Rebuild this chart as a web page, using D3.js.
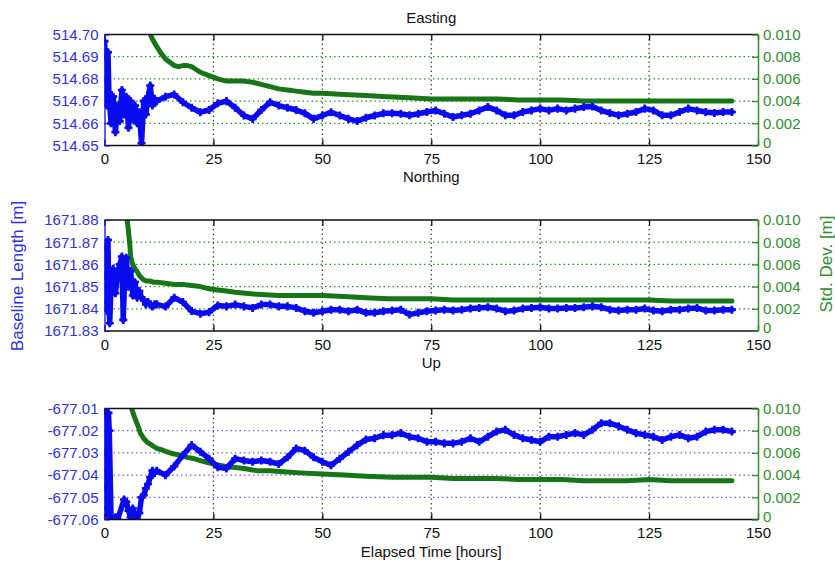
<!DOCTYPE html>
<html>
<head>
<meta charset="utf-8">
<script src="https://cdn.jsdelivr.net/npm/d3@7"></script>
<style>
  body { margin: 0; background: #fff; }
  text { font-family: "Liberation Sans", Arial, sans-serif; }
</style>
</head>
<body>
<div id="wrapper"></div>
<script>
// ---- data ----
const lateHours = [12,14,16,18,20,22,24,26,28,30,32,34,36,38,40,42,44,46,48,50,
  52,54,56,58,60,62,64,66,68,70,72,74,76,78,80,82,84,86,88,90,92,94,96,98,100,
  102,104,106,108,110,112,114,116,118,120,122,124,126,128,130,132,134,136,138,140,142,144]

const xTicks = [0,25,50,75,100,125,150]
const sdTicks = [0,0.002,0.004,0.006,0.008,0.010]

// Easting
const eastEarlyHours = [0,0.2,0.4,0.6,0.8,1,1.5,2,2.5,3,3.5,4,4.5,5,5.5,6,6.5,7,7.5,8,8.5,9,9.5,10,10.5,11,11.5]
const eastEarly = [514.697,514.690,514.679,514.668,514.692,514.674,514.660,514.672,514.656,514.668,514.661,
  514.675,514.664,514.672,514.658,514.670,514.662,514.668,514.660,514.665,514.651,514.670,514.664,514.672,
  514.677,514.668,514.671]
const eastLate = [514.670,514.672,514.673,514.6695,514.667,514.665,514.666,514.669,514.670,514.667,
  514.6635,514.662,514.666,514.6695,514.668,514.667,514.666,514.6645,514.662,514.6635,
  514.665,514.6635,514.662,514.661,514.6625,514.6635,514.6645,514.6645,514.6643,514.6636,
  514.6643,514.6651,514.6658,514.6643,514.6628,514.6636,514.6643,514.6658,514.6673,514.6658,
  514.6636,514.6636,514.6651,514.6658,514.6666,514.6658,514.6666,514.6658,514.6666,514.6673,
  514.6676,514.6658,514.6646,514.6636,514.6643,514.6651,514.6666,514.6658,514.6636,514.6636,
  514.6651,514.6666,514.6658,514.6651,514.6646,514.6651,514.6651]
const eastSdHours = [10.5,11,12,13,14,15,16,17,18,19,20,22,24,26,28,30,32,34,36,38,40,42,44,46,48,50,
  55,60,65,70,75,80,85,90,95,100,105,110,115,120,125,130,135,140,144]
const eastSd = [0.0100,0.0096,0.0089,0.0083,0.0078,0.0075,0.0072,0.0071,0.0072,0.0072,0.0071,
  0.0066,0.0063,0.0060,0.0058,0.0058,0.0058,0.0057,0.0055,0.0053,0.0051,0.0050,0.0049,0.0048,0.0047,0.0047,
  0.0046,0.0045,0.0044,0.0043,0.0042,0.0042,0.0042,0.0042,0.0041,0.0041,0.0041,0.0040,0.0040,0.0040,
  0.0040,0.0040,0.0040,0.0040,0.0040]
const eastTicks = [514.65,514.66,514.67,514.68,514.69,514.70]

// Northing
const northEarlyHours = [0,0.2,0.4,0.6,0.8,1,1.2,1.5,2,2.5,3,3.5,4,4.3,4.6,5,5.5,6,6.5,7,7.5,8,8.5,9,9.5,10,10.5,11,11.5]
const northEarly = [1671.868,1671.855,1671.843,1671.839,1671.871,1671.843,1671.8335,1671.850,1671.858,
  1671.847,1671.855,1671.860,1671.8635,1671.835,1671.852,1671.863,1671.850,1671.857,1671.846,1671.852,
  1671.845,1671.848,1671.845,1671.844,1671.842,1671.843,1671.842,1671.841,1671.842]
const northLate = [1671.842,1671.841,1671.845,1671.843,1671.839,1671.8378,1671.8385,1671.8415,1671.8411,1671.8419,
  1671.8411,1671.8404,1671.8419,1671.8419,1671.8411,1671.8411,1671.8404,1671.8389,1671.8382,1671.8389,
  1671.8396,1671.8396,1671.8389,1671.8396,1671.8382,1671.8382,1671.8389,1671.8392,1671.8396,1671.8374,
  1671.8382,1671.8389,1671.8392,1671.8396,1671.8392,1671.8396,1671.8401,1671.8404,1671.8407,1671.8401,
  1671.8389,1671.8392,1671.8401,1671.8404,1671.8407,1671.8401,1671.8401,1671.8404,1671.8404,1671.8407,
  1671.8411,1671.8407,1671.8396,1671.8392,1671.8396,1671.8396,1671.8401,1671.8392,1671.8389,1671.8396,
  1671.8396,1671.8401,1671.8404,1671.8392,1671.8392,1671.8396,1671.8396]
const northSdHours = [5.2,5.5,5.8,6,6.3,6.6,7,7.4,8,8.5,9,9.7,10.5,11.2,12,14,16,18,20,22,24,26,28,30,
  35,40,45,50,55,60,65,70,75,80,85,90,95,100,105,110,115,120,125,130,135,140,144]
const northSd = [0.0100,0.0090,0.0078,0.0067,0.0062,0.0059,0.0056,0.0054,0.0050,0.0048,0.0046,0.0045,0.0045,0.0044,
  0.0044,0.0043,0.0042,0.0042,0.0041,0.0040,0.0038,0.0037,0.0036,0.0035,
  0.0033,0.0032,0.0032,0.0032,0.0031,0.0030,0.0029,0.0029,0.0029,0.0028,0.0028,0.0028,0.0028,0.0028,
  0.0028,0.0028,0.0028,0.0028,0.0028,0.0027,0.0027,0.0027,0.0027]
const northTicks = [1671.83,1671.84,1671.85,1671.86,1671.87,1671.88]

// Up
const upEarlyHours = [0,0.1,0.2,0.3,0.4,0.5,0.7,0.9,1.1,1.5,2,2.5,3,4.5,5,5.5,6,6.5,7,7.5,8,8.5,9,9.5,10,10.5,11,11.5]
const upEarly = [-677.011,-677.030,-677.045,-677.055,-677.038,-677.014,-677.058,-677.012,-677.020,-677.059,
  -677.060,-677.059,-677.060,-677.051,-677.052,-677.056,-677.059,-677.055,-677.058,-677.060,-677.057,
  -677.050,-677.049,-677.046,-677.044,-677.041,-677.038,-677.039]
const upLate = [-677.038,-677.040,-677.036,-677.031,-677.0265,-677.0295,-677.0326,-677.0364,-677.037,-677.0326,
  -677.0334,-677.034,-677.0334,-677.034,-677.035,-677.032,-677.028,-677.029,-677.032,-677.034,
  -677.0356,-677.0326,-677.0295,-677.0265,-677.024,-677.0234,-677.022,-677.022,-677.0211,-677.0227,
  -677.0234,-677.025,-677.025,-677.0257,-677.0257,-677.025,-677.0234,-677.025,-677.0227,-677.0204,
  -677.0196,-677.0219,-677.0234,-677.0242,-677.025,-677.0227,-677.0227,-677.0219,-677.0211,-677.0219,
  -677.0196,-677.0166,-677.0166,-677.018,-677.0196,-677.0211,-677.0219,-677.0227,-677.0242,-677.0227,
  -677.0219,-677.0234,-677.0227,-677.0204,-677.0196,-677.0196,-677.0204]
const upSdHours = [6.3,7,7.4,8,8.2,9,9.7,10.5,11.2,12,13,14.3,16,17.4,19,20.4,22,25,27.5,29.6,
  32,35,38,41,45,50,55,60,66,70,75,80,85,90,95,100,105,110,115,120,125,130,135,140,144]
const upSd = [0.0099,0.0091,0.0087,0.0081,0.0078,0.0073,0.0070,0.0068,0.0066,0.0064,
  0.0063,0.0061,0.0059,0.0058,0.0056,0.0055,0.0053,0.0050,0.0048,0.0047,
  0.0046,0.0044,0.0044,0.0043,0.0042,0.0041,0.0040,0.0039,0.0038,0.0038,
  0.0038,0.0037,0.0037,0.0037,0.0036,0.0036,0.0036,0.0035,0.0035,0.0035,0.0036,0.0035,0.0035,0.0035,0.0035]
const upTicks = [-677.06,-677.05,-677.04,-677.03,-677.02,-677.01]

// ---- layout ----
const width = 835
const height = 561
const plotLeft = 104.5
const plotRight = 758
const panelHeight = 111

const blueMark = '#0b0bf0'
const blueText = '#3030d8'
const greenMark = '#177517'
const greenText = '#2f8f2f'

const panels = [
  { id: 'e', title: 'Easting', top: 34.5, titleY: 23, hours: eastEarlyHours.concat(lateHours), values: eastEarly.concat(eastLate),
    sdHours: eastSdHours, sd: eastSd, ticks: eastTicks, grid: greenText },
  { id: 'n', title: 'Northing', top: 220, titleY: 182, hours: northEarlyHours.concat(lateHours), values: northEarly.concat(northLate),
    sdHours: northSdHours, sd: northSd, ticks: northTicks, grid: greenText },
  { id: 'u', title: 'Up', top: 408.5, titleY: 368, hours: upEarlyHours.concat(lateHours), values: upEarly.concat(upLate),
    sdHours: upSdHours, sd: upSd, ticks: upTicks, grid: '#6a6ae6' },
]

const svg = d3.select('#wrapper')
  .append('svg')
    .attr('width', width)
    .attr('height', height)

const xScale = d3.scaleLinear()
  .domain([0, 150])
  .range([plotLeft, plotRight])

const fmtLeft = v => d3.format('.2f')(v).replace('−', '-')
const fmtRight = v => v === 0 ? '0' : d3.format('.3f')(v)

panels.forEach(p => {
  const top = p.top
  const bottom = top + panelHeight

  const yScale = d3.scaleLinear()
    .domain([p.ticks[0], p.ticks[p.ticks.length - 1]])
    .range([bottom, top])
  const sdScale = d3.scaleLinear()
    .domain([0, 0.010])
    .range([bottom, top])

  const g = svg.append('g')

  // clip
  svg.append('clipPath')
      .attr('id', 'clip-' + p.id)
    .append('rect')
      .attr('x', plotLeft)
      .attr('y', top)
      .attr('width', plotRight - plotLeft)
      .attr('height', panelHeight)

  // horizontal grid
  g.selectAll('.hgrid')
    .data(p.ticks.slice(1, -1))
    .join('line')
      .attr('x1', plotLeft)
      .attr('x2', plotRight)
      .attr('y1', d => yScale(d))
      .attr('y2', d => yScale(d))
      .attr('stroke', p.grid)
      .attr('stroke-width', 1.3)
      .attr('stroke-dasharray', '1.5,3')

  // vertical grid
  g.selectAll('.vgrid')
    .data(xTicks.slice(1, -1))
    .join('line')
      .attr('x1', d => xScale(d))
      .attr('x2', d => xScale(d))
      .attr('y1', top)
      .attr('y2', bottom)
      .attr('stroke', '#444')
      .attr('stroke-width', 1.3)
      .attr('stroke-dasharray', '1.5,3')

  const data = p.hours.map((h, i) => ({ h, v: p.values[i] }))
  const sdData = p.sdHours.map((h, i) => ({ h, v: p.sd[i] }))

  const plot = g.append('g').attr('clip-path', `url(#clip-${p.id})`)

  // std dev (green)
  plot.append('path')
    .datum(sdData)
      .attr('fill', 'none')
      .attr('stroke', greenMark)
      .attr('stroke-width', 5)
      .attr('stroke-linejoin', 'round')
      .attr('stroke-linecap', 'round')
      .attr('d', d3.line().x(d => xScale(d.h)).y(d => sdScale(d.v)))

  // baseline component (blue)
  plot.append('path')
    .datum(data)
      .attr('fill', 'none')
      .attr('stroke', blueMark)
      .attr('stroke-width', 5.5)
      .attr('stroke-linejoin', 'round')
      .attr('stroke-linecap', 'round')
      .attr('d', d3.line().x(d => xScale(d.h)).y(d => yScale(d.v)))

  plot.selectAll('.pt')
    .data(data)
    .join('path')
      .attr('transform', d => `translate(${xScale(d.h)},${yScale(d.v)})`)
      .attr('d', d3.symbol().type(d3.symbolCross).size(36))
      .attr('fill', blueMark)

  // frame top / bottom
  g.append('line')
      .attr('x1', plotLeft).attr('x2', plotRight)
      .attr('y1', top).attr('y2', top)
      .attr('stroke', '#111').attr('stroke-width', 1.5)
  g.append('line')
      .attr('x1', plotLeft).attr('x2', plotRight)
      .attr('y1', bottom).attr('y2', bottom)
      .attr('stroke', '#111').attr('stroke-width', 1.5)

  // x ticks (bottom labels, ticks inward top and bottom)
  const xAxis = g.append('g')
      .attr('transform', `translate(0,${bottom})`)
      .call(d3.axisBottom(xScale).tickValues(xTicks).tickSizeInner(-6).tickSizeOuter(0).tickPadding(8))
  xAxis.select('.domain').remove()
  xAxis.selectAll('line').attr('stroke', '#111').attr('stroke-width', 1.3)
  xAxis.selectAll('text').attr('font-size', 15).attr('fill', '#111')

  const xTop = g.append('g')
      .attr('transform', `translate(0,${top})`)
      .call(d3.axisTop(xScale).tickValues(xTicks).tickSizeInner(-6).tickSizeOuter(0).tickFormat(''))
  xTop.select('.domain').remove()
  xTop.selectAll('line').attr('stroke', '#111').attr('stroke-width', 1.3)

  // left axis (blue)
  const yAxis = g.append('g')
      .attr('transform', `translate(${plotLeft},0)`)
      .call(d3.axisLeft(yScale).tickValues(p.ticks).tickFormat(fmtLeft)
        .tickSizeInner(-5).tickSizeOuter(0).tickPadding(6))
  yAxis.select('.domain').attr('stroke', blueMark).attr('stroke-width', 1.3)
  yAxis.selectAll('line').attr('stroke', blueMark)
  yAxis.selectAll('text').attr('font-size', 15).attr('fill', blueText)

  // right axis (green)
  const sdAxis = g.append('g')
      .attr('transform', `translate(${plotRight},0)`)
      .call(d3.axisRight(sdScale).tickValues(sdTicks).tickFormat(fmtRight)
        .tickSizeInner(-6).tickSizeOuter(0).tickPadding(5))
  sdAxis.select('.domain').attr('stroke', greenText).attr('stroke-width', 1.5)
  sdAxis.selectAll('line').attr('stroke', greenText).attr('stroke-width', 1.3)
  sdAxis.selectAll('text').attr('font-size', 15).attr('fill', greenText)
  // the "0" label sits a little above the corner, as in the reference
  sdAxis.selectAll('text').filter(d => d === 0).attr('dy', '0.1em')

  // panel title
  svg.append('text')
      .attr('x', (plotLeft + plotRight) / 2)
      .attr('y', p.titleY)
      .attr('text-anchor', 'middle')
      .attr('font-size', 15)
      .attr('fill', '#111')
      .text(p.title)
})

// shared axis labels
svg.append('text')
    .attr('x', (plotLeft + plotRight) / 2)
    .attr('y', 557)
    .attr('text-anchor', 'middle')
    .attr('font-size', 15)
    .attr('fill', '#111')
    .text('Elapsed Time [hours]')

svg.append('text')
    .attr('transform', 'translate(23,276) rotate(-90)')
    .attr('text-anchor', 'middle')
    .attr('font-size', 17)
    .attr('fill', blueText)
    .text('Baseline Length [m]')

svg.append('text')
    .attr('transform', 'translate(832,264) rotate(-90)')
    .attr('text-anchor', 'middle')
    .attr('font-size', 17)
    .attr('fill', greenText)
    .text('Std. Dev. [m]')
</script>
</body>
</html>
